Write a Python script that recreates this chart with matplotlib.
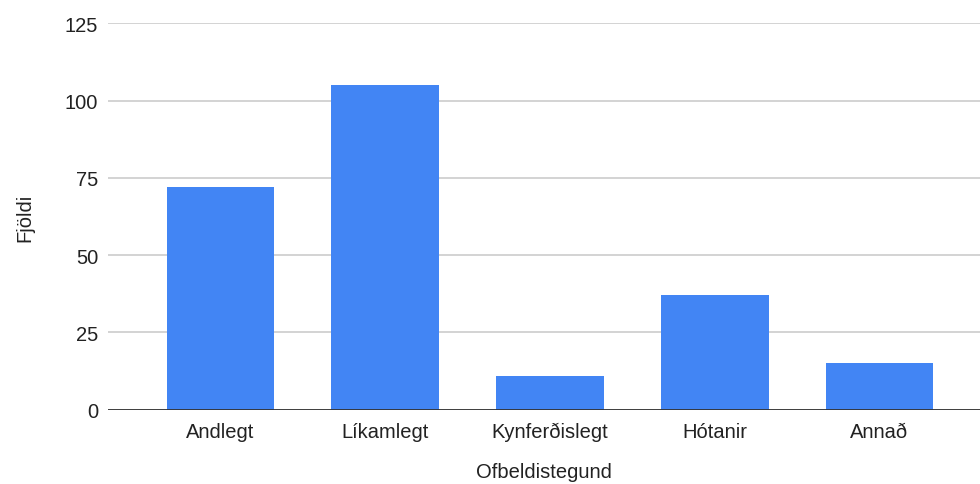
import matplotlib.pyplot as plt

plt.rcParams['font.family'] = ['Liberation Sans', 'DejaVu Sans']

categories = ['Andlegt', 'Líkamlegt', 'Kynferðislegt', 'Hótanir', 'Annað']
counts = [72, 105, 11, 37, 15]
yticks = [0, 25, 50, 75, 100, 125]

fig = plt.figure(figsize=(9.8, 4.85), dpi=100)
ax = fig.add_axes([0.1102, 0.1536, 0.8898, 0.7959])

x = range(len(categories))
ax.bar(x, counts, width=0.655, color='#4285F4', zorder=3)

ax.set_ylim(0, 125)
ax.set_xlim(-0.683, 4.61)
ax.set_yticks(yticks)
ax.set_xticks(list(x))
ax.set_xticklabels(categories)

ax.grid(axis='y', color='#cccccc', linewidth=1.2, zorder=0)
ax.axhline(0, color='#333333', linewidth=1.3, zorder=4)
for s in ax.spines.values():
    s.set_visible(False)
ax.tick_params(axis='both', length=0, labelsize=14.5, colors='#222222')
ax.tick_params(axis='y', pad=7)
ax.tick_params(axis='x', pad=9)

ax.set_ylabel('Fjöldi', fontsize=14.5, color='#222222', labelpad=22)
ax.set_xlabel('Ofbeldistegund', fontsize=14.5, color='#222222', labelpad=15)

fig.savefig('out.png', dpi=100)
